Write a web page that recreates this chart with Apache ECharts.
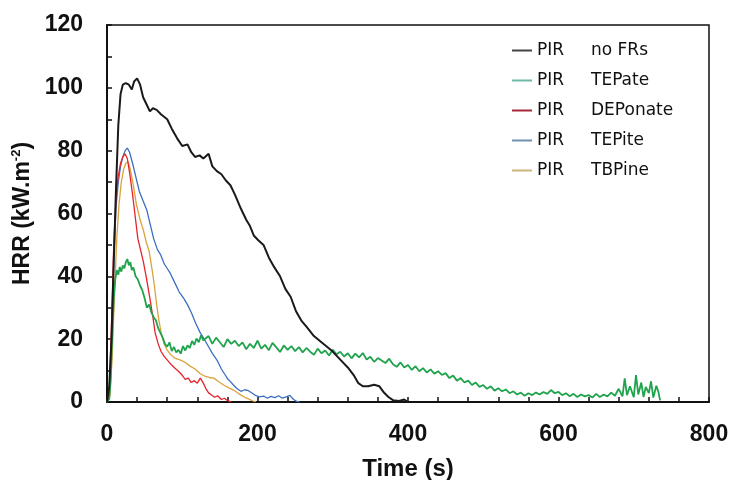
<!DOCTYPE html>
<html>
<head>
<meta charset="utf-8">
<script src="https://cdn.jsdelivr.net/npm/echarts@6/dist/echarts.min.js"></script>
<style>
  html, body { margin: 0; padding: 0; background: #fff; }
  #chart { width: 732px; height: 480px; }
</style>
</head>
<body>
<div id="chart"></div>
<script>
// [time (s), HRR (kW/m2)]
const noFRs = [
  [0, 0], [3, 5], [6, 20], [9, 45], [12, 68], [15, 88], [18, 98], [21, 101], [25, 101.5], [29, 101],
  [33, 99.5], [36, 102], [40, 103], [44, 101], [48, 97], [52, 95], [57, 92.5], [61, 93.5], [66, 93],
  [72, 91.5], [80, 90], [86, 87], [93, 84], [100, 81.5], [107, 82], [112, 79.5], [117, 78], [123, 78.5],
  [128, 77.5], [135, 79], [140, 75], [146, 73.5], [152, 72.5], [158, 70.5], [164, 69], [170, 66],
  [178, 61.5], [185, 58], [190, 56], [195, 53], [201, 51.5], [208, 50], [215, 46], [222, 43], [230, 40],
  [237, 36], [244, 33.5], [251, 29], [258, 26], [265, 24], [275, 21], [285, 19], [298, 16.5], [310, 13.5],
  [320, 11], [328, 8.5], [334, 6], [340, 5], [347, 5], [355, 5.5], [362, 5], [368, 3], [374, 1.6],
  [380, 0.6], [388, 0.3], [395, 0.8], [400, 0]
];

const tepate = [
  [0, 0], [3, 1], [5, 8], [7, 22], [9, 33], [11, 39], [13, 42], [15, 40.5], [17, 43], [19, 41.5],
  [21, 43.5], [23, 42.5], [25, 44.5], [27, 45.5], [29, 43.5], [31, 44.5], [33, 42], [35, 42.8], [38, 40],
  [41, 39], [44, 37], [47, 35.5], [50, 33], [53, 30], [56, 31], [59, 28.5], [62, 27], [65, 26], [68, 23.5],
  [71, 22], [74, 20.5], [77, 18.5], [80, 17.6], [83, 19], [86, 16.2], [89, 17.5], [92, 15.8], [95, 16.6],
  [98, 15.4], [101, 17.8], [104, 16.4], [107, 18], [110, 17.2], [113, 19.4], [116, 18.2], [119, 20.2],
  [122, 19], [125, 21.2], [128, 19.6], [130, 19.5], [135, 21], [140, 18.5], [145, 20.5], [150, 19],
  [155, 17.5], [160, 20], [165, 18.5], [170, 19.5], [175, 17.8], [180, 19], [185, 16.8], [190, 18.5],
  [195, 17.2], [200, 19.5], [205, 17], [210, 18.2], [215, 16.5], [220, 18.8], [225, 17.4], [230, 15.9],
  [235, 18], [240, 16.6], [245, 17.8], [250, 16.2], [255, 17.5], [260, 15.8], [265, 17.2], [270, 16],
  [275, 15], [280, 17], [285, 15.5], [290, 16.4], [295, 14.8], [300, 16.6], [305, 15.2], [310, 16],
  [315, 14.5], [320, 15.5], [325, 13.9], [330, 15.4], [335, 14.2], [340, 15.6], [345, 13.5], [350, 14.4],
  [355, 12.8], [360, 14], [365, 13.2], [370, 12.4], [375, 13.8], [380, 12], [385, 11.2], [390, 12.6],
  [395, 11], [400, 11.8], [405, 10.2], [410, 11.4], [415, 9.8], [420, 10.8], [425, 9.4], [430, 10.4],
  [435, 9], [440, 9.8], [445, 8.6], [450, 9.2], [455, 7.6], [460, 8.4], [465, 6.8], [470, 7.6], [475, 6.2],
  [480, 6.8], [485, 5.4], [490, 6.2], [495, 4.8], [500, 5.4], [505, 4.2], [510, 5], [515, 3.6], [520, 4.4],
  [525, 3.4], [530, 4], [535, 2.8], [540, 3.4], [545, 2.4], [550, 3], [555, 2], [560, 2.8], [565, 2.2],
  [570, 3], [575, 2.4], [580, 3.2], [585, 2.6], [590, 3.8], [595, 2.8], [600, 3.2], [605, 2.2], [610, 2.8],
  [615, 1.8], [620, 2.6], [625, 1.6], [630, 2.4], [635, 1.8], [640, 2.2], [645, 1.4], [650, 2.6], [655, 1.6],
  [660, 2.4], [665, 1.8], [670, 3], [675, 2], [680, 4.2], [685, 1.8], [688, 7.5], [691, 2.2], [695, 5],
  [700, 1.5], [703, 8.6], [706, 2.4], [710, 6.2], [713, 1.6], [716, 4.8], [720, 2.8], [723, 6.6],
  [726, 1.4], [730, 5.2], [733, 3], [735, 0.5]
];

const deponate = [
  [0, 0], [3, 3], [6, 25], [9, 50], [12, 65], [15, 72], [18, 76], [21, 78], [24, 79], [27, 77.5],
  [30, 73], [34, 66], [38, 58], [41, 52], [45, 48], [48, 45], [52, 40], [57, 33], [61, 27], [64, 22],
  [68, 18.5], [72, 16], [76, 14.5], [80, 13.4], [85, 12], [90, 10.8], [95, 9.8], [100, 8.5], [104, 7.2],
  [108, 7.6], [112, 6.2], [116, 6.8], [120, 6], [124, 7.6], [128, 6], [132, 4], [135, 2.9], [139, 2.2],
  [143, 1.5], [147, 2], [152, 0.8], [156, 1.2], [160, 0.5], [165, 0]
];

const tepite = [
  [0, 0], [3, 2], [6, 20], [9, 45], [12, 62], [15, 70], [18, 75], [21, 78], [24, 80], [27, 80.8],
  [30, 79.5], [34, 76], [38, 72], [43, 67], [48, 64], [53, 61], [58, 56], [62, 52], [67, 48.5], [71, 47],
  [76, 44], [80, 42.5], [84, 41], [90, 38], [96, 35], [102, 33], [107, 31], [112, 28.5], [118, 25],
  [124, 22], [128, 20.5], [134, 18], [140, 15.5], [147, 13], [152, 10.5], [156, 9], [160, 7.5], [164, 6.5],
  [168, 5.4], [173, 4.2], [178, 3.4], [183, 3.9], [188, 3.6], [193, 2.8], [198, 2], [203, 1.6], [208, 1.9],
  [213, 1.2], [218, 1.8], [223, 1.4], [228, 2], [233, 1.2], [238, 1.6], [243, 2.1], [248, 0.8], [252, 0.2],
  [256, 0]
];

const tbpine = [
  [0, 0], [4, 2], [7, 15], [10, 35], [13, 52], [16, 63], [19, 70], [22, 74], [25, 76], [28, 76.5],
  [31, 74], [35, 69], [39, 63], [44, 58], [48, 55], [52, 51], [56, 48], [60, 42], [63, 37], [66, 31],
  [69, 26], [72, 22], [76, 18.5], [80, 16.5], [85, 15], [90, 14], [97, 13.4], [104, 12.6], [110, 11.5],
  [117, 10.5], [124, 9], [130, 8.2], [136, 7.8], [142, 7.6], [148, 6.5], [155, 5.4], [162, 4.5],
  [168, 3.8], [173, 3], [178, 2.2], [183, 1.5], [188, 1], [193, 0.4], [198, 0]
];

const seriesNames = ['PIR  no FRs', 'PIR  TEPate', 'PIR  DEPonate', 'PIR  TEPite', 'PIR  TBPine'];
const seriesData = [noFRs, tepate, deponate, tepite, tbpine];
const seriesColors = ['#1a1a1a', '#1fa34c', '#e6232b', '#3c6fc2', '#d9a33c'];
const legendColors = ['#444444', '#6fb8a6', '#a8283a', '#6f90b4', '#cdb27a'];
const lineWidths = [2, 1.8, 1.3, 1.3, 1.3];

const chart = echarts.init(document.getElementById('chart'));

const option = {
  backgroundColor: '#ffffff',
  animation: false,
  grid: {
    left: 107,
    right: 23,
    top: 25,
    bottom: 78,
    outerBoundsMode: 'none',
    show: true,
    borderColor: '#111',
    borderWidth: 1.5
  },
  legend: {
    orient: 'vertical',
    left: 506,
    top: 37,
    itemWidth: 20,
    itemHeight: 14,
    itemGap: 13,
    data: seriesNames.map((name, i) => ({
      name: name,
      lineStyle: { color: legendColors[i], width: 2 },
      itemStyle: { opacity: 0 }
    })),
    formatter: name => {
      const parts = name.split('  ');
      return '{a|' + parts[0] + '}{b|' + parts[1] + '}';
    },
    textStyle: {
      rich: {
        a: { fontFamily: 'DejaVu Sans', fontSize: 17, lineHeight: 17, color: '#111', width: 54 },
        b: { fontFamily: 'DejaVu Sans', fontSize: 17, lineHeight: 17, color: '#111' }
      }
    }
  },
  xAxis: {
    type: 'value',
    min: 0,
    max: 800,
    interval: 40,
    name: 'Time (s)',
    nameLocation: 'middle',
    nameGap: 55,
    nameTextStyle: {
      fontFamily: 'Liberation Sans',
      fontWeight: 'bold',
      fontSize: 24,
      color: '#111'
    },
    axisLine: { lineStyle: { color: '#111', width: 2 } },
    axisTick: { inside: true, length: 5, lineStyle: { color: '#111', width: 1.5 } },
    axisLabel: {
      margin: 21,
      fontFamily: 'Liberation Sans',
      fontWeight: 'bold',
      fontSize: 23,
      color: '#111',
      formatter: v => (v % 200 === 0 ? String(v) : '')
    },
    splitLine: { show: false }
  },
  yAxis: {
    type: 'value',
    min: 0,
    max: 120,
    interval: 10,
    name: 'HRR (kW.m{sup|-2})',
    nameLocation: 'middle',
    nameGap: 70,
    nameRotate: 90,
    nameTextStyle: {
      fontFamily: 'Liberation Sans',
      fontWeight: 'bold',
      fontSize: 23,
      color: '#111',
      rich: {
        sup: {
          fontFamily: 'Liberation Sans',
          fontSize: 13,
          color: '#111',
          verticalAlign: 'bottom',
          padding: [0, 0, 11, 0]
        }
      }
    },
    axisLine: { show: true, lineStyle: { color: '#111', width: 2 } },
    axisTick: { show: true, inside: true, length: 5, lineStyle: { color: '#111', width: 1.5 } },
    axisLabel: {
      margin: 24,
      fontFamily: 'Liberation Sans',
      fontWeight: 'bold',
      fontSize: 23,
      color: '#111',
      formatter: v => (v % 20 === 0 ? String(v) : '')
    },
    splitLine: { show: false }
  },
  series: seriesNames.map((name, i) => ({
    name: name,
    type: 'line',
    data: seriesData[i],
    symbol: 'none',
    smooth: false,
    color: seriesColors[i],
    lineStyle: { color: seriesColors[i], width: lineWidths[i] },
    z: 10 - i
  }))
};

chart.setOption(option);
</script>
</body>
</html>
